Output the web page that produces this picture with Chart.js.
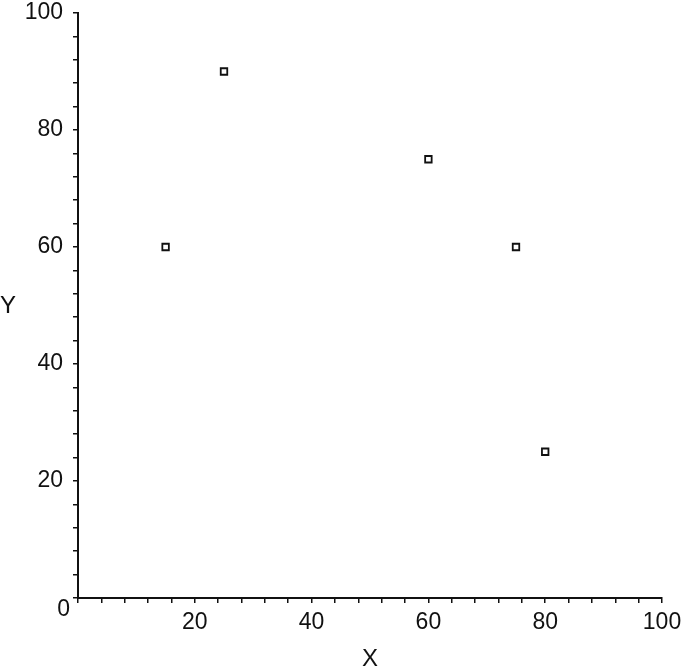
<!DOCTYPE html>
<html><head><meta charset="utf-8">
<script src="https://cdn.jsdelivr.net/npm/chart.js@4.4.1/dist/chart.umd.min.js"></script>
<style>html,body{margin:0;padding:0;background:#fff}#wrap{width:685px;height:672px}</style>
</head><body><div id="wrap"><canvas id="c" width="685" height="672"></canvas></div>
<script>
const xValues = [15, 25, 60, 75, 80];
const yValues = [60, 90, 75, 60, 25];
const xTitle = 'X';
const yTitle = 'Y';
const originLabel = '0';
const axisMin = 0, axisMax = 100, minorStep = 4, majorStep = 20;

const FONT = 'Liberation Sans, Arial, Helvetica, sans-serif';
const points = xValues.map((x, i) => ({x, y: yValues[i]}));

const extraText = {
  id: 'extraText',
  afterDraw(chart) {
    const {ctx, scales} = chart;
    ctx.save();
    ctx.fillStyle = '#111';
    ctx.font = '23px ' + FONT;
    ctx.textAlign = 'right';
    ctx.textBaseline = 'middle';
    ctx.fillText(originLabel, scales.x.getPixelForValue(0) - 8, scales.y.getPixelForValue(0) + 12);
    ctx.font = '24px ' + FONT;
    ctx.textAlign = 'left';
    ctx.fillText(yTitle, 0, (scales.y.top + scales.y.bottom) / 2 + 1);
    ctx.restore();
  }
};

const tickCb = (v) => (v % majorStep === 0 && v !== 0) ? String(v) : '';

new Chart(document.getElementById('c'), {
  type: 'scatter',
  data: { datasets: [{
    data: points,
    pointStyle: 'rect',
    radius: 4.6,
    borderWidth: 1.8,
    borderColor: '#111',
    backgroundColor: '#fff'
  }]},
  options: {
    responsive: false,
    animation: false,
    layout: { padding: { top: 13, right: 23, left: 0, bottom: 0 } },
    plugins: { legend: { display: false }, tooltip: { enabled: false } },
    scales: {
      x: {
        type: 'linear', min: axisMin, max: axisMax,
        afterFit(s) { s.height = 74; s.paddingLeft = 0; s.paddingRight = 0; },
        border: { color: '#111', width: 2 },
        grid: { drawOnChartArea: false, color: '#111', tickLength: 5, lineWidth: 1.5 },
        ticks: { stepSize: minorStep, autoSkip: false, maxRotation: 0, callback: tickCb,
                 color: '#111', font: { size: 23, family: FONT }, padding: 6 },
        title: { display: true, text: xTitle, color: '#111', font: { size: 24, family: FONT }, padding: { top: 0, bottom: -2 } }
      },
      y: {
        type: 'linear', min: axisMin, max: axisMax,
        afterFit(s) { s.width = 78; s.paddingTop = 0; s.paddingBottom = 0; },
        border: { color: '#111', width: 2 },
        grid: { drawOnChartArea: false, color: '#111', tickLength: 5, lineWidth: 1.5 },
        ticks: { stepSize: minorStep, autoSkip: false, callback: tickCb,
                 color: '#111', font: { size: 23, family: FONT }, padding: 10 }
      }
    }
  },
  plugins: [extraText]
});
</script></body></html>
